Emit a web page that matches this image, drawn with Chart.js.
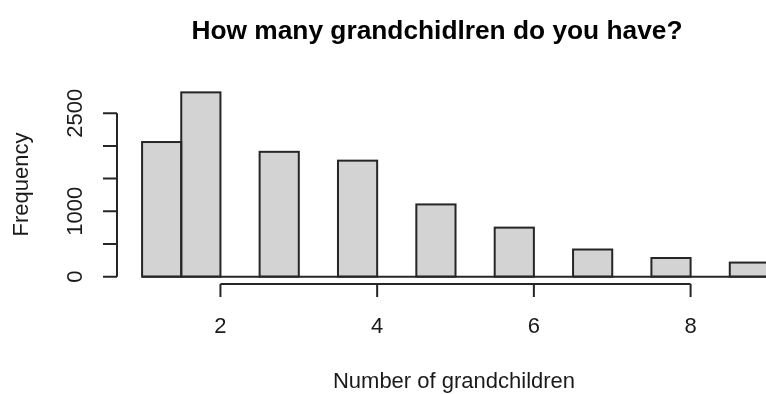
<!DOCTYPE html>
<html>
<head>
<meta charset="utf-8">
<script src="https://cdn.jsdelivr.net/npm/chart.js@4.4.1/dist/chart.umd.min.js"></script>
<style>
    html, body { margin: 0; padding: 0; background: #ffffff; overflow: hidden; }
    #wrap { position: relative; width: 766px; height: 394px; }
</style>
</head>
<body>
<div id="wrap"><canvas id="histChart"></canvas></div>
<script>
// ── Histogram data (bins of width 0.5) ──
const binStarts = [1, 1.5, 2, 2.5, 3, 3.5, 4, 4.5, 5, 5.5, 6, 6.5, 7, 7.5, 8, 8.5];
const binWidth = 0.5;
const counts = [2060, 2820, 0, 1910, 0, 1775, 0, 1105, 0, 750, 0, 415, 0, 285, 0, 215];

// ── Axis ticks ──
const xTicks = [2, 4, 6, 8];
const yTicks = [0, 500, 1000, 1500, 2000, 2500];
const yTickLabels = ["0", "", "1000", "", "", "2500"];

const TITLE = "How many grandchidlren do you have?";
const X_TITLE = "Number of grandchildren";
const Y_TITLE = "Frequency";

// R-style 4% range extension
const xRange = [binStarts[0], binStarts[binStarts.length - 1] + binWidth];
const xPad = (xRange[1] - xRange[0]) * 0.04;
const yMaxCount = Math.max(...counts);
const yPad = yMaxCount * 0.04;

const FONT = '"Liberation Sans", Arial, sans-serif';
const INK = "#1a1a1a";

// ── Draws outlines, axes and text the way base R does ──
const rAxesPlugin = {
    id: "rAxes",
    afterDatasetsDraw(chart) {
        const { ctx, chartArea } = chart;
        const xs = chart.scales.x;
        const ys = chart.scales.y;
        const meta = chart.getDatasetMeta(0);

        ctx.save();
        ctx.beginPath();
        ctx.rect(chartArea.left, chartArea.top, chartArea.right - chartArea.left, chartArea.bottom - chartArea.top);
        ctx.clip();
        ctx.strokeStyle = "#262626";
        ctx.lineWidth = 2;

        // baseline (zero-count bins show up as a flat line)
        const y0 = ys.getPixelForValue(0);
        ctx.beginPath();
        ctx.moveTo(xs.getPixelForValue(xRange[0]), y0);
        ctx.lineTo(xs.getPixelForValue(xRange[1]), y0);
        ctx.stroke();

        // bar outlines
        meta.data.forEach((bar, i) => {
            if (!counts[i]) return;
            const { x, y, base, width } = bar.getProps(["x", "y", "base", "width"], true);
            ctx.strokeRect(x - width / 2, y, width, base - y);
        });
        ctx.restore();

        ctx.save();
        ctx.strokeStyle = "#262626";
        ctx.lineWidth = 2;
        ctx.fillStyle = INK;

        // x axis
        const axY = chartArea.bottom;
        ctx.beginPath();
        ctx.moveTo(xs.getPixelForValue(xTicks[0]), axY);
        ctx.lineTo(xs.getPixelForValue(xTicks[xTicks.length - 1]), axY);
        xTicks.forEach(v => {
            const px = xs.getPixelForValue(v);
            ctx.moveTo(px, axY);
            ctx.lineTo(px, axY + 13);
        });
        ctx.stroke();
        ctx.font = `22px ${FONT}`;
        ctx.textAlign = "center";
        ctx.textBaseline = "alphabetic";
        xTicks.forEach(v => ctx.fillText(String(v), xs.getPixelForValue(v), axY + 49));

        // y axis
        const axX = chartArea.left;
        ctx.beginPath();
        ctx.moveTo(axX, ys.getPixelForValue(yTicks[0]));
        ctx.lineTo(axX, ys.getPixelForValue(yTicks[yTicks.length - 1]));
        yTicks.forEach(v => {
            const py = ys.getPixelForValue(v);
            ctx.moveTo(axX, py);
            ctx.lineTo(axX - 14, py);
        });
        ctx.stroke();
        yTicks.forEach((v, i) => {
            if (!yTickLabels[i]) return;
            ctx.save();
            ctx.translate(82, ys.getPixelForValue(v));
            ctx.rotate(-Math.PI / 2);
            ctx.fillText(yTickLabels[i], 0, 0);
            ctx.restore();
        });

        // axis titles
        const midY = (chartArea.top + chartArea.bottom) / 2;
        ctx.save();
        ctx.translate(27.5, midY);
        ctx.rotate(-Math.PI / 2);
        ctx.fillText(Y_TITLE, 0, 0);
        ctx.restore();
        ctx.fillText(X_TITLE, 454, 388);

        // main title
        ctx.fillStyle = "#000";
        ctx.font = `bold 26.3px ${FONT}`;
        ctx.fillText(TITLE, 437, 39);
        ctx.restore();
    }
};

new Chart(document.getElementById("histChart"), {
    type: "bar",
    data: {
        datasets: [{
            data: binStarts.map((b, i) => ({ x: b + binWidth / 2, y: counts[i] })),
            backgroundColor: "#d3d3d3",
            borderWidth: 0,
            barPercentage: 1,
            categoryPercentage: 1,
        }],
    },
    options: {
        responsive: true,
        maintainAspectRatio: false,
        devicePixelRatio: 1,
        animation: false,
        layout: { padding: { left: 117, top: 85, right: 0, bottom: 110 } },
        plugins: { legend: { display: false }, title: { display: false }, tooltip: { enabled: false } },
        scales: {
            x: {
                type: "linear",
                display: false,
                offset: false,
                min: xRange[0] - xPad,
                max: xRange[0] - xPad + (766 - 117) / 78.36,
            },
            y: {
                display: false,
                min: -yPad,
                max: yMaxCount + yPad,
            },
        },
    },
    plugins: [rAxesPlugin],
});
</script>
</body>
</html>
